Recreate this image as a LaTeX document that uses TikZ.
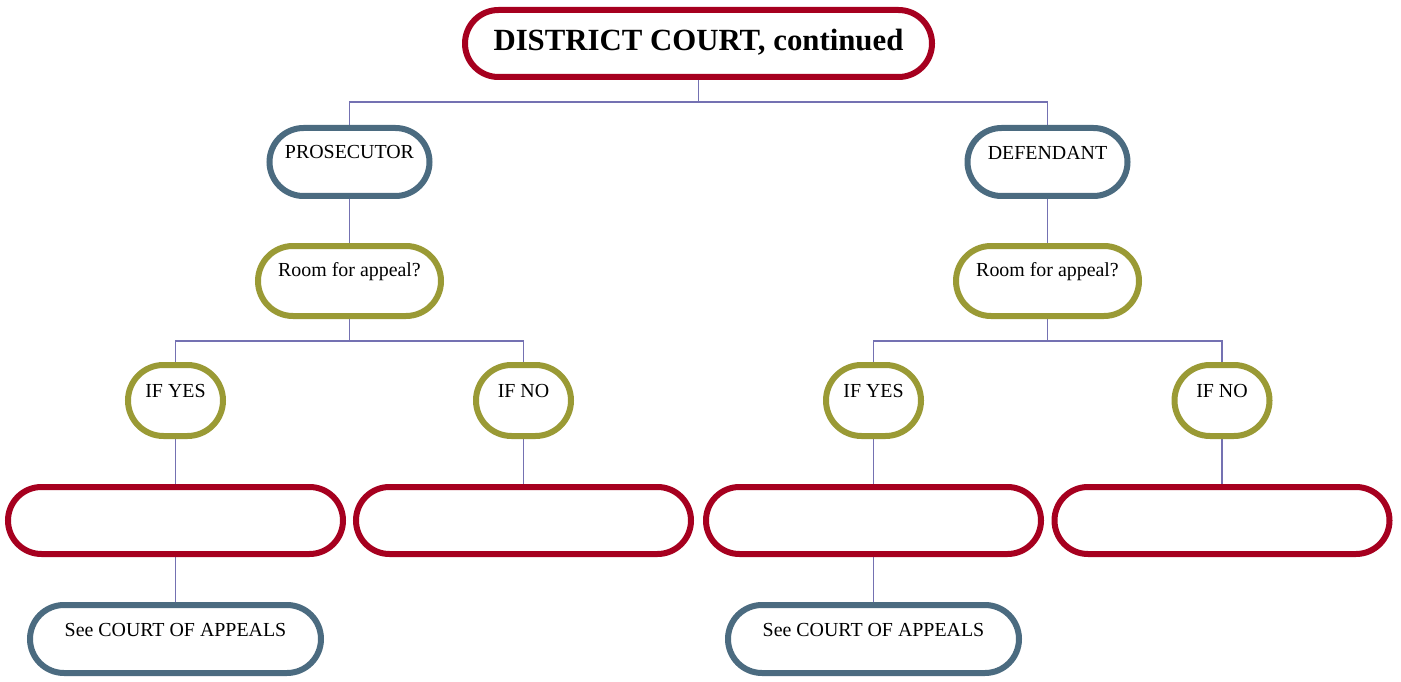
\documentclass[tikz,border=0pt]{standalone}
\usepackage{fontspec}
\setmainfont{Liberation Serif}
\usetikzlibrary{shapes.misc,backgrounds}
\definecolor{cred}{HTML}{A6001F}
\definecolor{cblue}{HTML}{4B6B80}
\definecolor{colive}{HTML}{9A9A35}
\definecolor{cline}{HTML}{7471B2}
\tikzset{
  box/.style={rounded rectangle, draw, line width=6pt, fill=white, inner sep=0pt},
  redbox/.style={box, draw=cred},
  bluebox/.style={box, draw=cblue},
  olivebox/.style={box, draw=colive},
  lbl/.style={inner sep=0pt, font=\fontsize{19.9}{23}\selectfont},
  conn/.style={draw=cline, line width=1.6pt},
}
\begin{document}
\begin{tikzpicture}[x=1pt,y=-1pt]
\useasboundingbox (0,0) rectangle (1401,682);
% top
\node[redbox, minimum width=467pt, minimum height=67pt] (top) at (698.5,43.5) {};
\node[inner sep=0pt, font=\fontsize{30.8}{35}\selectfont\bfseries] (toptxt) at (698.5,42) {DISTRICT COURT, continued};
% second level
\node[bluebox, minimum width=160pt, minimum height=68pt] (pros) at (349.5,162) {};
\node[bluebox, minimum width=160pt, minimum height=68pt] (def) at (1047.5,162) {};
\node[lbl] (prostxt) at (349.5,152.5) {PROSECUTOR};
\node[lbl] (deftxt) at (1047.5,152.5) {DEFENDANT};
% room for appeal
\node[olivebox, minimum width=183pt, minimum height=70pt] (roomL) at (349.5,281) {};
\node[olivebox, minimum width=183pt, minimum height=70pt] (roomR) at (1047.5,281) {};
\node[lbl] (roomLtxt) at (349.5,271.5) {Room for appeal?};
\node[lbl] (roomRtxt) at (1047.5,271.5) {Room for appeal?};
% if yes / if no
\node[olivebox, minimum width=95pt, minimum height=71pt] (yesL) at (175.5,400.5) {};
\node[olivebox, minimum width=95pt, minimum height=71pt] (noL) at (523.5,400.5) {};
\node[olivebox, minimum width=95pt, minimum height=71pt] (yesR) at (873.5,400.5) {};
\node[olivebox, minimum width=95pt, minimum height=71pt] (noR) at (1222,400.5) {};
\node[lbl] (yesLtxt) at (175.5,391) {IF YES};
\node[lbl] (noLtxt) at (523.5,391) {IF NO};
\node[lbl] (yesRtxt) at (873.5,391) {IF YES};
\node[lbl] (noRtxt) at (1222,391) {IF NO};
% empty red boxes
\node[redbox, minimum width=335pt, minimum height=67pt] (r1) at (175.5,520.5) {};
\node[redbox, minimum width=335pt, minimum height=67pt] (r2) at (523.5,520.5) {};
\node[redbox, minimum width=335pt, minimum height=67pt] (r3) at (873.5,520.5) {};
\node[redbox, minimum width=335pt, minimum height=67pt] (r4) at (1222,520.5) {};
% see court of appeals
\node[bluebox, minimum width=291pt, minimum height=68pt] (seeL) at (175.5,639) {};
\node[bluebox, minimum width=291pt, minimum height=68pt] (seeR) at (873.5,639) {};
\node[lbl] (seeLtxt) at (175.5,630) {See COURT OF APPEALS};
\node[lbl] (seeRtxt) at (873.5,630) {See COURT OF APPEALS};
% connectors
\coordinate (b1) at (698.5,102);
\coordinate (b2) at (349.5,341);
\coordinate (b3) at (1047.5,341);
\begin{scope}[on background layer]
\draw[conn] (top.center) -- (b1) -| (pros.center);
\draw[conn] (b1) -| (def.center);
\draw[conn] (pros.center) -- (roomL.center);
\draw[conn] (def.center) -- (roomR.center);
\draw[conn] (roomL.center) -- (b2) -| (yesL.center);
\draw[conn] (b2) -| (noL.center);
\draw[conn] (roomR.center) -- (b3) -| (yesR.center);
\draw[conn] (b3) -| (noR.center);
\draw[conn] (yesL.center) -- (r1.center);
\draw[conn] (noL.center) -- (r2.center);
\draw[conn] (yesR.center) -- (r3.center);
\draw[conn] (noR.center) -- (r4.center);
\draw[conn] (r1.center) -- (seeL.center);
\draw[conn] (r3.center) -- (seeR.center);
\end{scope}
\end{tikzpicture}
\end{document}
